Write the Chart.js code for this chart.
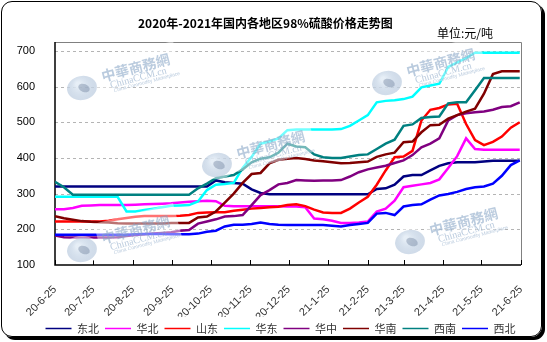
<!DOCTYPE html>
<html>
<head>
<meta charset="utf-8">
<script src="https://cdn.jsdelivr.net/npm/chart.js@4.4.0/dist/chart.umd.min.js"></script>
<style>
  html, body { margin: 0; padding: 0; background: #fff; }
  #wrap { position: relative; width: 547px; height: 342px; overflow: hidden; }
  #frame { position: absolute; left: 1px; top: 1px; width: 539px; height: 334px; border: 1px solid #000; border-radius: 11px; box-shadow: 3px 3px 0 #000; }
  #title { position: absolute; left: 138px; top: 16px; font: bold 12px/14px "Noto Sans CJK SC", sans-serif; color: #000; white-space: nowrap; }
  #unit { position: absolute; left: 437px; top: 26px; font: 12px/14px "Noto Sans CJK SC", sans-serif; color: #000; white-space: nowrap; }
  canvas { position: absolute; left: 0; top: 0; }
</style>
</head>
<body>
<div id="wrap">
  <div id="frame"></div>
  <canvas id="priceChart" width="547" height="342"></canvas>
  <div id="title">2020年-2021年国内各地区98%硫酸价格走势图</div>
  <div id="unit">单位:元/吨</div>
</div>
<script>
// days counted from 2020-06-25, one reading per week
const days = [];
for (let d = 0; d <= 364; d += 7) days.push(d);

// x axis: month ticks (days from 2020-06-25) and their labels
const tickDays = [0, 30, 61, 92, 122, 153, 183, 214, 245, 273, 304, 334, 365];
const tickLabels = ["20-6-25", "20-7-25", "20-8-25", "20-9-25", "20-10-25", "20-11-25", "20-12-25",
  "21-1-25", "21-2-25", "21-3-25", "21-4-25", "21-5-25", "21-6-25"];
const yTicks = [100, 200, 300, 400, 500, 600, 700];

const regions = ["东北", "华北", "山东", "华东", "华中", "华南", "西南", "西北"];

const dongbei = [320, 320, 320, 320, 320, 320, 320, 320, 320, 320, 320, 320, 320, 320, 320, 320, 320, 320,
  337, 332, 330, 328, 312, 302, 298, 298, 298, 298, 298, 298, 298, 298, 298, 298, 298, 298,
  313, 315, 325, 348, 352, 352, 365, 378, 385, 388, 388, 388, 390, 392, 392, 392, 392];
const huabei = [256, 256, 260, 266, 267, 268, 268, 268, 268, 269, 270, 271, 272, 273, 275, 277, 279, 280,
  279, 266, 265, 265, 265, 265, 265, 265, 264, 264, 262, 230, 228, 224, 218, 218, 219, 222,
  250, 258, 280, 318, 322, 326, 330, 340, 372, 405, 455, 425, 423, 423, 423, 423, 423];
const shandong = [222, 222, 222, 222, 222, 222, 224, 228, 232, 235, 237, 237, 237, 237, 238, 240, 246, 247,
  248, 248, 252, 255, 258, 260, 262, 263, 268, 270, 265, 255, 247, 246, 246, 258, 275, 291,
  325, 365, 402, 404, 420, 505, 535, 540, 550, 552, 495, 450, 436, 445, 460, 485, 500];
const huadong = [291, 291, 291, 291, 291, 291, 291, 291, 250, 250, 254, 258, 262, 266, 267, 268, 278, 310,
  325, 327, 330, 372, 403, 440, 446, 455, 478, 480, 480, 480, 480, 480, 481, 490, 505, 520,
  556, 560, 562, 565, 572, 598, 603, 608, 655, 668, 680, 695, 695, 695, 695, 695, 695];
const huazhong = [183, 178, 177, 177, 177, 177, 177, 178, 181, 184, 186, 188, 190, 192, 196, 198, 216, 222,
  228, 236, 237, 240, 268, 296, 310, 326, 330, 338, 337, 336, 337, 337, 338, 348, 360, 368,
  373, 378, 386, 393, 408, 430, 440, 455, 505, 520, 525, 528, 530, 535, 543, 545, 556];
const huanan = [237, 231, 227, 223, 221, 220, 219, 217, 216, 216, 216, 216, 216, 218, 218, 218, 233, 236,
  250, 275, 300, 330, 355, 358, 385, 395, 398, 400, 397, 393, 391, 388, 385, 386, 388, 390,
  403, 410, 415, 444, 446, 472, 492, 493, 510, 520, 530, 538, 580, 635, 643, 643, 643];
const xinan = [333, 318, 297, 297, 297, 297, 297, 297, 297, 297, 297, 297, 297, 297, 297, 297, 315, 328,
  343, 348, 352, 368, 388, 398, 402, 415, 440, 432, 430, 410, 402, 400, 400, 404, 408, 410,
  425, 440, 451, 490, 494, 512, 515, 516, 553, 556, 556, 590, 624, 624, 624, 624, 624];
const xibei = [185, 185, 185, 185, 185, 185, 185, 185, 185, 186, 187, 187, 187, 186, 186, 186, 188, 193,
  196, 208, 213, 213, 215, 219, 215, 213, 212, 212, 212, 212, 212, 210, 208, 212, 215, 218,
  244, 246, 240, 264, 268, 270, 283, 295, 299, 305, 313, 318, 320, 328, 350, 380, 393];

const seriesValues = [dongbei, huabei, shandong, huadong, huazhong, huanan, xinan, xibei];
const colors = ["#000080", "#FF00FF", "#FF0000", "#00FFFF", "#800080", "#800000", "#008080", "#0000FF"];

// faint site logos over the plot (canvas px)
const marks = [[82, 88], [217, 165], [82, 250], [387, 83], [410, 242]];

// plot frame, dashed grid and inward x tick marks
const framePlugin = {
  id: "frame",
  beforeDatasetsDraw(chart) {
    const { ctx, chartArea: a, scales } = chart;
    ctx.save();
    ctx.lineWidth = 1;
    ctx.strokeStyle = "#b4b4b4";
    ctx.setLineDash([3, 3]);
    yTicks.forEach((v) => {
      if (v === 100) return;
      const py = Math.round(scales.y.getPixelForValue(v)) + 0.5;
      ctx.beginPath();
      ctx.moveTo(a.left, py);
      ctx.lineTo(a.right, py);
      ctx.stroke();
    });
    ctx.setLineDash([]);
    ctx.strokeStyle = "#808080";
    ctx.beginPath();
    ctx.moveTo(a.left, Math.round(a.top) + 0.5);
    ctx.lineTo(Math.round(a.right) + 0.5, Math.round(a.top) + 0.5);
    ctx.lineTo(Math.round(a.right) + 0.5, a.bottom);
    ctx.stroke();
    ctx.strokeStyle = "#000";
    ctx.lineWidth = 1.5;
    ctx.beginPath();
    ctx.moveTo(a.left, a.top);
    ctx.lineTo(a.left, a.bottom);
    ctx.lineTo(a.right, a.bottom);
    ctx.stroke();
    ctx.lineWidth = 1;
    tickDays.forEach((d) => {
      const px = Math.round(scales.x.getPixelForValue(d)) + 0.5;
      ctx.beginPath();
      ctx.moveTo(px, a.bottom);
      ctx.lineTo(px, a.bottom - 5);
      ctx.stroke();
    });
    ctx.restore();
  },
  afterDatasetsDraw(chart) {
    const ctx = chart.ctx;
    marks.forEach(([gx, gy]) => {
      ctx.save();
      ctx.translate(gx, gy);
      ctx.fillStyle = "rgba(255,255,255,0.5)";
      ctx.beginPath();
      ctx.ellipse(0, 0, 18, 14, 0, 0, Math.PI * 2);
      ctx.fill();
      const g = ctx.createRadialGradient(-4, -4, 2, 0, 0, 16);
      g.addColorStop(0, "rgba(225,235,245,0.8)");
      g.addColorStop(1, "rgba(150,175,205,0.45)");
      ctx.fillStyle = g;
      ctx.beginPath();
      ctx.ellipse(0, 0, 15, 12, -0.2, 0, Math.PI * 2);
      ctx.fill();
      ctx.fillStyle = "rgba(90,110,140,0.35)";
      ctx.beginPath();
      ctx.ellipse(2, 0, 6, 4, 0.4, 0, Math.PI * 2);
      ctx.fill();
      ctx.rotate(-0.26);
      ctx.fillStyle = "rgba(255,255,255,0.45)";
      ctx.fillRect(18, -22, 82, 34);
      ctx.fillStyle = "rgba(130,160,195,0.55)";
      ctx.font = "bold 14px 'Noto Sans CJK TC'";
      ctx.fillText("中華商務網", 22, -6);
      ctx.font = "10px 'Liberation Serif'";
      ctx.fillText("ChinaCCM.cn", 28, 5);
      ctx.font = "5px 'Liberation Sans'";
      ctx.fillText("China Commodity Marketplace", 30, 11);
      ctx.restore();
    });
  },
};

const ctx = document.getElementById("priceChart").getContext("2d");

new Chart(ctx, {
  type: "line",
  data: {
    datasets: regions.map((name, i) => ({
      label: name,
      data: days.map((d, j) => ({ x: d, y: seriesValues[i][j] })),
      borderColor: colors[i],
      backgroundColor: colors[i],
      borderWidth: 2.5,
      pointRadius: 0,
      tension: 0,
      order: -i,
    })),
  },
  options: {
    responsive: false,
    animation: false,
    devicePixelRatio: 1,
    layout: { padding: { left: 14, right: 0, top: 42, bottom: -2 } },
    plugins: {
      tooltip: { enabled: false },
      legend: {
        position: "bottom",
        labels: {
          usePointStyle: true,
          pointStyle: "line",
          pointStyleWidth: 26,
          padding: 6,
          color: "#333",
          font: { family: "'Noto Sans CJK SC'", size: 11 },
          sort: (a, b) => a.datasetIndex - b.datasetIndex,
          generateLabels: (chart) =>
            Chart.defaults.plugins.legend.labels
              .generateLabels(chart)
              .map((item) => ({ ...item, lineWidth: 1.5 })),
        },
      },
    },
    scales: {
      x: {
        type: "linear",
        min: 0,
        max: 365,
        grid: { display: false },
        border: { display: false },
        afterBuildTicks: (scale) => {
          scale.ticks = tickDays.map((d) => ({ value: d }));
        },
        afterFit: (scale) => {
          scale.height = 52;
          scale.paddingRight = 26;
        },
        ticks: {
          autoSkip: false,
          minRotation: 45,
          maxRotation: 45,
          padding: 10,
          color: "#333",
          font: { family: "'Liberation Sans', Arial", size: 11 },
          callback: (value) => tickLabels[tickDays.indexOf(value)],
        },
      },
      y: {
        min: 100,
        max: 725,
        grid: { display: false },
        border: { display: false },
        afterBuildTicks: (scale) => {
          scale.ticks = yTicks.map((v) => ({ value: v }));
        },
        afterFit: (scale) => {
          scale.width = 41;
        },
        ticks: {
          padding: 12,
          color: "#000",
          font: { family: "'Liberation Sans', Arial", size: 11 },
        },
      },
    },
  },
  plugins: [framePlugin],
});
</script>
</body>
</html>
